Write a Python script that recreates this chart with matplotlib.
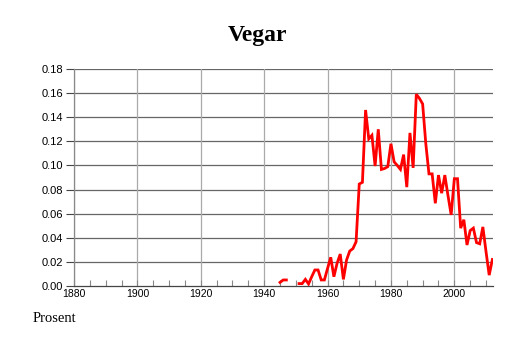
import numpy as np
import matplotlib
matplotlib.use("Agg")
import matplotlib.pyplot as plt
from matplotlib.ticker import MultipleLocator

years = list(range(1945, 2013))
values = [
    0.003, 0.005, 0.005,          # 1945-1947
    np.nan, np.nan, np.nan,       # 1948-1950
    0.002, 0.002, 0.0055, 0.0017, 0.0077, 0.0133, 0.0133, 0.005, 0.005,  # 1951-1959
    0.0146, 0.0238, 0.0077, 0.0188, 0.0265, 0.0055, 0.0216, 0.029, 0.031, 0.0367,  # 1960-1969
    0.0846, 0.086, 0.146, 0.122, 0.125, 0.0995, 0.130, 0.0967, 0.0975, 0.099,  # 1970-1979
    0.118, 0.103, 0.100, 0.0967, 0.109, 0.082, 0.127, 0.098, 0.159, 0.1556,  # 1980-1989
    0.151, 0.118, 0.093, 0.093, 0.0686, 0.092, 0.077, 0.092, 0.075, 0.059,  # 1990-1999
    0.089, 0.089, 0.048, 0.055, 0.034, 0.046, 0.048, 0.036, 0.035, 0.049,  # 2000-2009
    0.0285, 0.009, 0.022,  # 2010-2012
]
title = "Vegar"
ylabel_text = "Prosent"

fig = plt.figure(figsize=(5.14, 3.43), dpi=100)
ax = fig.add_axes([74/514, 1-286/343, (493-74)/514, (286-69)/343])

ax.plot(years, values, color="#ff0000", lw=2.0, solid_joinstyle="miter", zorder=3)

ax.set_xlim(1880, 2012.2)
ax.set_ylim(0, 0.18)
ax.xaxis.set_major_locator(MultipleLocator(20))
ax.xaxis.set_minor_locator(MultipleLocator(5))
ax.yaxis.set_major_locator(MultipleLocator(0.02))
ax.yaxis.set_major_formatter(matplotlib.ticker.FormatStrFormatter("%.2f"))

for y in np.arange(0.02, 0.181, 0.02):
    ax.axhline(y, color="#666666", lw=0.9, zorder=1)
for x in range(1880, 2012, 20):
    ax.axvline(x, color="#aaaaaa", lw=0.9, zorder=1)

for s in ["top", "right"]:
    ax.spines[s].set_visible(False)
ax.spines["left"].set_color("#888888")
ax.spines["left"].set_linewidth(0.9)
ax.spines["bottom"].set_color("#444444")
ax.spines["bottom"].set_linewidth(0.9)

ax.tick_params(axis="x", which="both", direction="in", length=4, color="#888888", width=0.8)
ax.tick_params(axis="x", which="major", labelsize=7.5, pad=2)
ax.tick_params(axis="y", which="major", direction="out", length=6, color="#444444", width=0.8,
               labelsize=8, pad=2)
for lab in ax.get_xticklabels() + ax.get_yticklabels():
    lab.set_family("Liberation Sans")

fig.text(257/514, 1-35/343, title, ha="center", va="center",
         family="Liberation Serif", fontweight="bold", fontsize=17)
fig.text(33/514, 1-318/343, ylabel_text, ha="left", va="center",
         family="Liberation Serif", fontsize=10.5)

fig.savefig("out.png", dpi=100)
